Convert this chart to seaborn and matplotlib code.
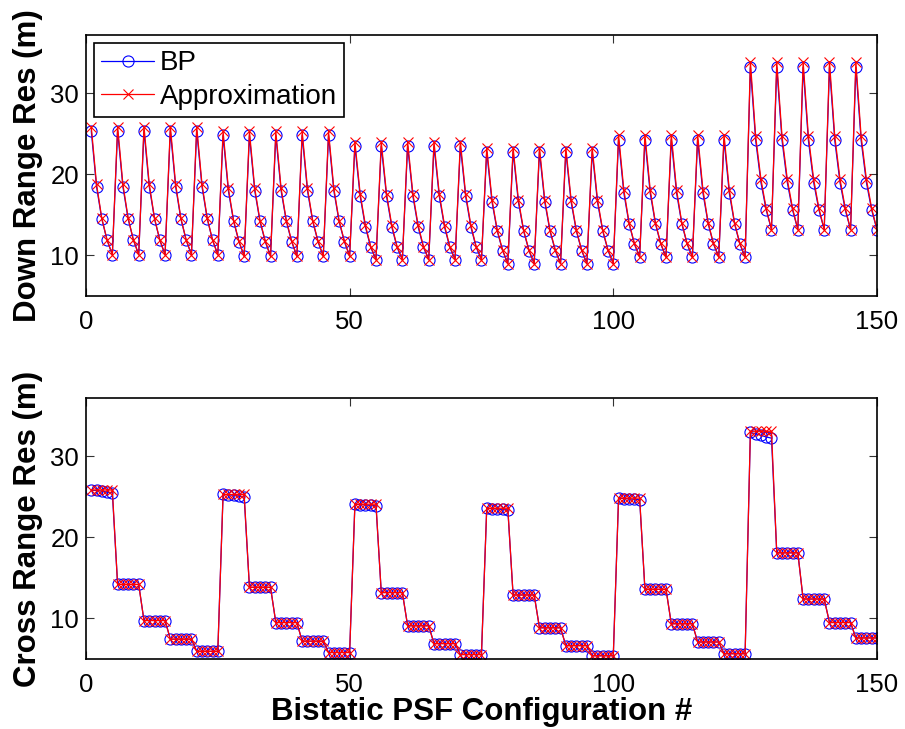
import numpy as np
import matplotlib
matplotlib.use("Agg")
import matplotlib.pyplot as plt
import seaborn as sns

# configuration index 1..150 (6 outer groups x 5 x 5)
config = np.arange(1, 151)

# Down range resolution: one 5-point cycle per outer group (repeats 5 times)
down_bp_cycles = [
    [25.4, 18.5, 14.5, 11.9, 10.1],
    [24.8, 18.0, 14.2, 11.7, 9.9],
    [23.5, 17.3, 13.5, 11.0, 9.5],
    [22.8, 16.6, 13.0, 10.6, 9.0],
    [24.3, 17.7, 13.9, 11.4, 9.8],
    [33.2, 24.2, 19.0, 15.6, 13.2],
]
down_approx_cycles = [
    [25.9, 18.8, 14.6, 11.9, 10.1],
    [25.3, 18.3, 14.3, 11.8, 9.9],
    [24.0, 17.6, 13.7, 11.1, 9.5],
    [23.3, 16.9, 13.1, 10.7, 9.0],
    [24.9, 18.1, 14.0, 11.5, 9.8],
    [33.9, 24.7, 19.4, 15.8, 13.2],
]

# Cross range resolution: 5 levels per outer group, each held for 5 configs
cross_approx_levels = [
    [25.85, 14.2, 9.75, 7.45, 5.95],
    [25.3, 13.85, 9.5, 7.2, 5.8],
    [24.1, 13.2, 9.1, 6.9, 5.55],
    [23.6, 12.9, 8.85, 6.65, 5.4],
    [24.85, 13.6, 9.35, 7.1, 5.65],
    [33.1, 18.1, 12.4, 9.5, 7.6],
]
# BP drifts slightly inside the first block of each outer group
cross_bp_first = [
    [25.8, 25.8, 25.7, 25.6, 25.5],
    [25.3, 25.25, 25.2, 25.1, 25.0],
    [24.1, 24.05, 24.0, 23.95, 23.9],
    [23.6, 23.55, 23.5, 23.45, 23.4],
    [24.85, 24.8, 24.75, 24.7, 24.65],
    [32.95, 32.8, 32.6, 32.4, 32.25],
]

down_bp = np.concatenate([np.tile(c, 5) for c in down_bp_cycles])
down_approx = np.concatenate([np.tile(c, 5) for c in down_approx_cycles])
cross_approx = np.concatenate([np.repeat(lv, 5) for lv in cross_approx_levels])
cross_bp = np.concatenate([np.concatenate([first, np.repeat(lv[1:], 5)])
                           for first, lv in zip(cross_bp_first, cross_approx_levels)])

sns.set_style("ticks", {"xtick.direction": "in", "ytick.direction": "in"})
plt.rcParams["font.family"] = ["Liberation Sans", "DejaVu Sans"]
plt.rcParams["text.color"] = "black"
plt.rcParams["axes.labelcolor"] = "black"

fig = plt.figure(figsize=(9.05, 7.29), dpi=100)
ax1 = fig.add_axes([0.095, 0.594, 0.874, 0.358])
ax2 = fig.add_axes([0.095, 0.096, 0.874, 0.358])


def draw(ax, bp, approx):
    sns.lineplot(x=config, y=bp, ax=ax, color="b", marker="o", markersize=8,
                 markerfacecolor="none", markeredgecolor="b", markeredgewidth=0.8,
                 linewidth=0.9, estimator=None, label="BP")
    sns.lineplot(x=config, y=approx, ax=ax, color="r", marker="x", markersize=7.5,
                 markeredgecolor="r", markeredgewidth=0.8,
                 linewidth=0.9, estimator=None, label="Approximation")
    ax.set_xlim(0, 150)
    ax.set_ylim(5, 37.2)
    ax.set_xticks([0, 50, 100, 150])
    ax.set_yticks([10, 20, 30])
    ax.tick_params(axis="both", which="both", direction="in", top=True, right=True,
                   length=6, width=0.8, labelsize=18.5, colors="#333333",
                   labelcolor="black")
    ax.tick_params(axis="x", pad=10)
    ax.tick_params(axis="y", pad=5)
    for s in ax.spines.values():
        s.set_linewidth(1.2)
        s.set_color("black")


draw(ax1, down_bp, down_approx)
draw(ax2, cross_bp, cross_approx)

ax1.set_ylabel("Down Range Res (m)", fontsize=22.5, fontweight="bold", color="black")
ax2.set_ylabel("Cross Range Res (m)", fontsize=22.5, fontweight="bold", color="black")
ax2.set_xlabel("Bistatic PSF Configuration #", fontsize=22.5, fontweight="bold",
               labelpad=0, color="black")
ax1.yaxis.set_label_coords(-0.054, 0.5)
ax2.yaxis.set_label_coords(-0.054, 0.5)

leg = ax1.legend(loc="upper left", fontsize=20, frameon=True, fancybox=False,
                 edgecolor="black", framealpha=1, borderpad=0.25,
                 labelspacing=0.28, handlelength=1.9, handletextpad=0.2,
                 borderaxespad=0.3)
leg.get_frame().set_linewidth(1.2)
for t in leg.get_texts():
    t.set_color("black")
ax2.get_legend().remove()

fig.savefig("out.png", dpi=100)
